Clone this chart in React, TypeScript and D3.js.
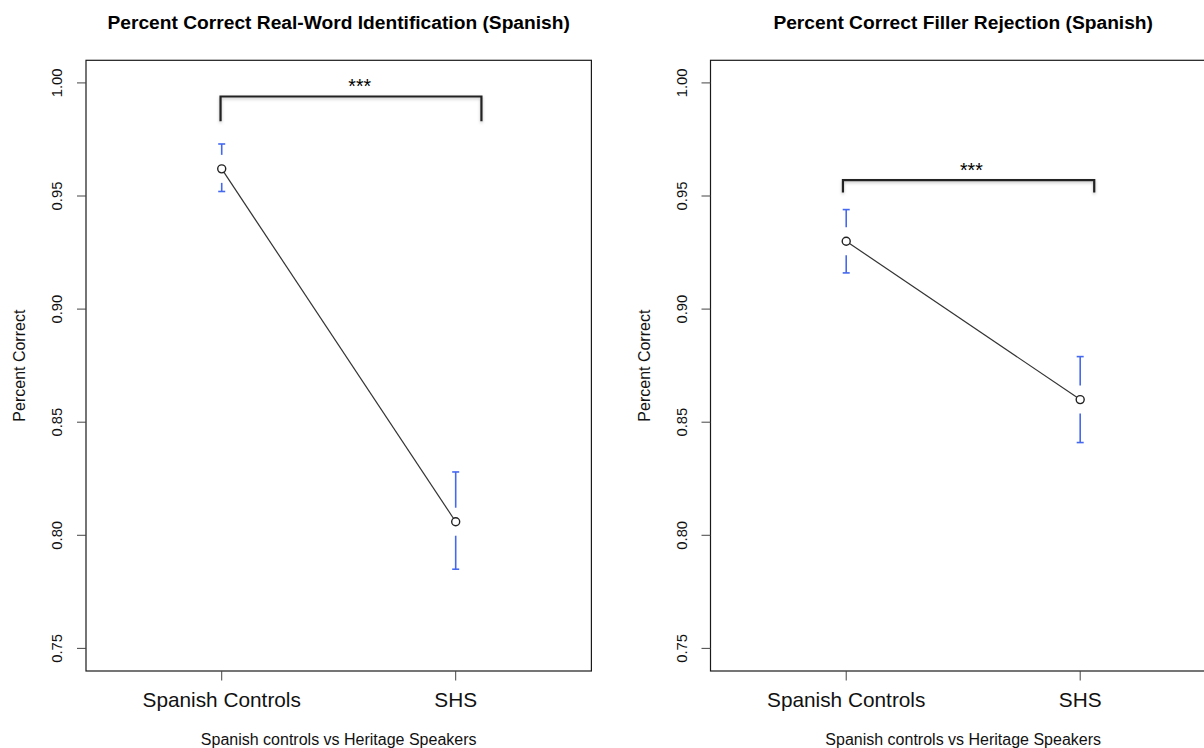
import React from "react";
import * as d3 from "d3";

// groups on the x axis
const groups = ["Spanish Controls", "SHS"];
const yTicks = [0.75, 0.8, 0.85, 0.9, 0.95, 1.0];

// real-word identification
const realWordMean = [0.962, 0.806];
const realWordUpper = [0.973, 0.828];
const realWordLower = [0.952, 0.785];

// filler rejection
const fillerMean = [0.930, 0.860];
const fillerUpper = [0.944, 0.879];
const fillerLower = [0.916, 0.841];

// significance brackets: [x0, x1, y, legBottom, starsX]
const realWordBracket = [0.995, 2.11, 0.994, 0.983, 1.59];
const fillerBracket = [0.986, 2.06, 0.957, 0.9515, 1.535];

const FONT = "'Liberation Sans', Arial, Helvetica, sans-serif";
const H = 748;
const top = 60.3;
const bottom = 671;

function Panel(props) {
  const { left, title, mean, upper, lower, bracket, id } = props;
  const x = d3.scaleLinear().domain([0.42, 2.58]).range([left, left + 505.4]);
  const y = d3.scaleLinear().domain([0.74, 1.01]).range([bottom, top]);
  const mid = left + 252.7;
  const line = d3
    .line()
    .x((d, i) => x(i + 1))
    .y((d) => y(d));
  const gap = 14;
  const cap = 3.5;

  const [bx0, bx1, by, bLeg, sx] = bracket;

  return (
    <g>
      {/* title */}
      <text x={mid} y={28.5} textAnchor="middle" fontFamily={FONT} fontWeight="bold" fontSize={19.2} fill="#000">
        {title}
      </text>

      {/* box */}
      <rect x={left} y={top} width={505.4} height={bottom - top} fill="none" stroke="#1a1a1a" strokeWidth={1.2} />

      {/* y axis */}
      {yTicks.map((t) => (
        <g key={t}>
          <line x1={left - 9} x2={left} y1={y(t)} y2={y(t)} stroke="#444" strokeWidth={1} />
          <text
            transform={`translate(${left - 24},${y(t)}) rotate(-90)`}
            textAnchor="middle"
            fontFamily={FONT}
            fontSize={14.8}
            fill="#111"
          >
            {d3.format(".2f")(t)}
          </text>
        </g>
      ))}
      <text
        transform={`translate(${left - 61},${(top + bottom) / 2}) rotate(-90)`}
        textAnchor="middle"
        fontFamily={FONT}
        fontSize={16}
        fill="#111"
      >
        Percent Correct
      </text>

      {/* x axis */}
      {groups.map((g, i) => (
        <g key={g}>
          <line x1={x(i + 1)} x2={x(i + 1)} y1={bottom} y2={bottom + 9.5} stroke="#444" strokeWidth={1} />
          <text x={x(i + 1)} y={706.5} textAnchor="middle" fontFamily={FONT} fontSize={20.8} fill="#111">
            {g}
          </text>
        </g>
      ))}
      <text x={mid} y={745} textAnchor="middle" fontFamily={FONT} fontSize={16} fill="#111">
        Spanish controls vs Heritage Speakers
      </text>

      {/* bracket */}
      <path
        d={`M${x(bx0)},${y(bLeg)}V${y(by)}H${x(bx1)}V${y(bLeg)}`}
        fill="none"
        stroke="#222"
        strokeWidth={2.2}
        filter={`url(#shadow-${id})`}
      />
      <text x={x(sx)} y={y(by) - 3} textAnchor="middle" fontFamily={FONT} fontSize={19.5} fill="#000">
        ***
      </text>

      {/* error bars with a gap around the mean */}
      {mean.map((m, i) => {
        const cx = x(i + 1);
        return (
          <g key={i} stroke="#4468f0" strokeWidth={1.6}>
            <line x1={cx} x2={cx} y1={y(upper[i])} y2={y(m) - gap} />
            <line x1={cx - cap} x2={cx + cap} y1={y(upper[i])} y2={y(upper[i])} />
            <line x1={cx} x2={cx} y1={y(m) + gap} y2={y(lower[i])} />
            <line x1={cx - cap} x2={cx + cap} y1={y(lower[i])} y2={y(lower[i])} />
          </g>
        );
      })}

      {/* means */}
      <path d={line(mean)} fill="none" stroke="#333" strokeWidth={1.2} />
      {mean.map((m, i) => (
        <circle key={i} cx={x(i + 1)} cy={y(m)} r={4} fill="#fff" stroke="#222" strokeWidth={1.4} />
      ))}
    </g>
  );
}

export default function App() {
  return (
    <svg width={1204} height={H} style={{ position: "absolute", left: 0, top: 0, background: "#fff" }}>
      <defs>
        {["a", "b"].map((k) => (
          <filter key={k} id={`shadow-${k}`} x="-5%" y="-50%" width="110%" height="200%">
            <feDropShadow dx="0" dy="1.5" stdDeviation="1.5" floodColor="#000" floodOpacity="0.25" />
          </filter>
        ))}
      </defs>
      <rect width={1204} height={H} fill="#fff" />
      <Panel
        id="a"
        left={86}
        title="Percent Correct Real-Word Identification (Spanish)"
        mean={realWordMean}
        upper={realWordUpper}
        lower={realWordLower}
        bracket={realWordBracket}
      />
      <Panel
        id="b"
        left={710.5}
        title="Percent Correct Filler Rejection (Spanish)"
        mean={fillerMean}
        upper={fillerUpper}
        lower={fillerLower}
        bracket={fillerBracket}
      />
    </svg>
  );
}
